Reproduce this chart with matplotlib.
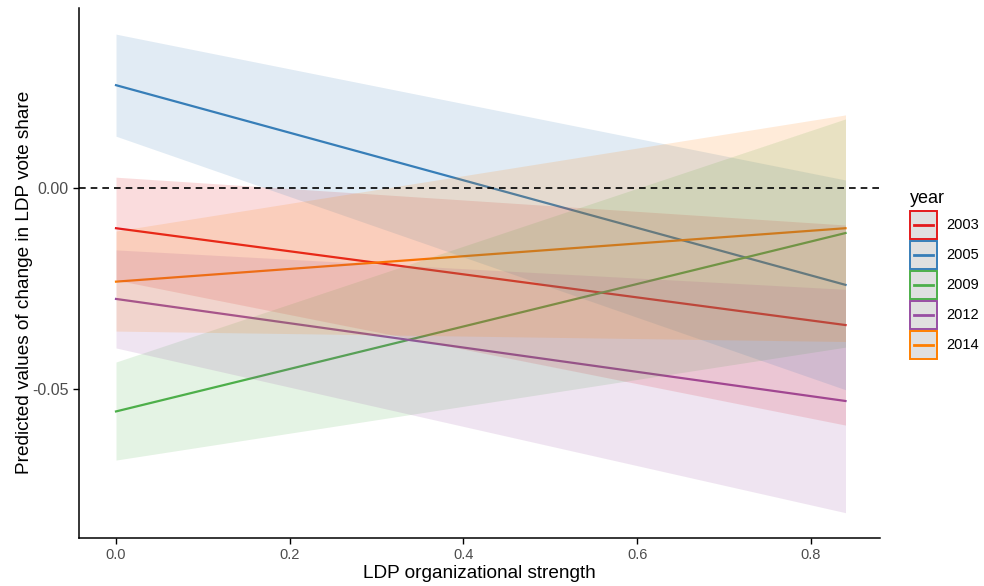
import numpy as np
import matplotlib.pyplot as plt
from matplotlib.patches import Rectangle
from matplotlib.lines import Line2D
from matplotlib.legend_handler import HandlerBase

plt.rcParams['font.family'] = ['Liberation Sans', 'DejaVu Sans']

years = ['2003', '2005', '2009', '2012', '2014']
colors = ['#E41A1C', '#377EB8', '#4DAF4A', '#984EA3', '#FF7F00']

x_ends = [0.0, 0.84]
# predicted value, lower and upper bound at x = 0 and x = 0.84
pred = {
    '2003': [-0.0100, -0.0341],
    '2005': [0.0256, -0.0241],
    '2009': [-0.0556, -0.0112],
    '2012': [-0.0276, -0.0530],
    '2014': [-0.0233, -0.0100],
}
lower = {
    '2003': [-0.0229, -0.0590],
    '2005': [0.0129, -0.0502],
    '2009': [-0.0677, -0.0396],
    '2012': [-0.0398, -0.0808],
    '2014': [-0.0356, -0.0382],
}
upper = {
    '2003': [0.0027, -0.0092],
    '2005': [0.0383, 0.0020],
    '2009': [-0.0433, 0.0172],
    '2012': [-0.0154, -0.0252],
    '2014': [-0.0107, 0.0182],
}


class BoxLineHandler(HandlerBase):
    # grey key box with coloured border and a line through it
    def create_artists(self, legend, orig_handle, xdescent, ydescent,
                       width, height, fontsize, trans):
        c = orig_handle.get_color()
        rect = Rectangle((-xdescent, -ydescent), width, height,
                         facecolor='#E0E0E0', edgecolor=c, linewidth=1.4,
                         transform=trans)
        y = -ydescent + height / 2
        line = Line2D([-xdescent + 3, -xdescent + width - 3], [y, y],
                      color=c, linewidth=2, transform=trans)
        return [rect, line]


fig = plt.figure(figsize=(9.84, 5.86), dpi=100)
ax = fig.add_axes([0.0803, 0.0819, 0.814, 0.9044])

for yr, c in zip(years, colors):
    ax.plot(x_ends, pred[yr], color=c, linewidth=1.6, zorder=2)
for yr, c in zip(years, colors):
    ax.fill_between(x_ends, lower[yr], upper[yr], color=c, alpha=0.15,
                    linewidth=0, zorder=3)

ax.axhline(0, color='black', linestyle=(0, (4, 3)), linewidth=1.2, zorder=4)

ax.set_xlim(-0.0426, 0.8797)
ax.set_ylim(-0.0871, 0.0448)
ax.set_xticks([0.0, 0.2, 0.4, 0.6, 0.8])
ax.set_xticklabels(['0.0', '0.2', '0.4', '0.6', '0.8'])
ax.set_yticks([-0.05, 0.0])
ax.set_yticklabels(['-0.05', '0.00'])
ax.tick_params(colors='black', labelcolor='#4D4D4D', length=4, width=1)
ax.tick_params(axis='x', labelsize=10.5)
ax.tick_params(axis='y', labelsize=11.5)
for s in ['top', 'right']:
    ax.spines[s].set_visible(False)
for s in ['left', 'bottom']:
    ax.spines[s].set_linewidth(1.1)

ax.set_xlabel('LDP organizational strength', fontsize=13.7, labelpad=2)
ax.set_ylabel('Predicted values of change in LDP vote share', fontsize=13.7)
ax.yaxis.set_label_coords(-0.0574, 0.483)

handles = [Line2D([], [], color=c) for c in colors]
leg = fig.legend(handles, years, title='year', loc='upper left',
                 bbox_to_anchor=(0.911, 0.699), frameon=False,
                 handler_map={Line2D: BoxLineHandler()},
                 handlelength=1.9, handleheight=2.65, labelspacing=0.09,
                 fontsize=10.5, title_fontsize=13, handletextpad=0.65)
leg._legend_box.align = 'left'
leg._legend_box.sep = 3

fig.savefig('out.png', dpi=100)
